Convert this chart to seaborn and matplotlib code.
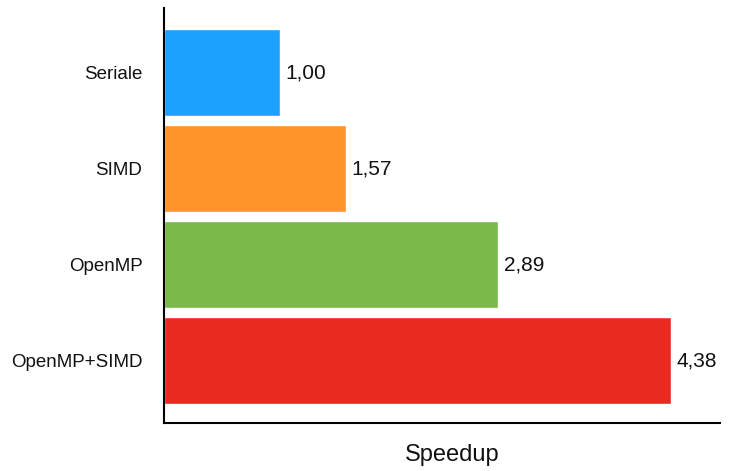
import matplotlib
matplotlib.use("Agg")
import matplotlib.pyplot as plt
import seaborn as sns
import pandas as pd

# Speedup of each implementation relative to the serial version
versions = ["Seriale", "SIMD", "OpenMP", "OpenMP+SIMD"]
speedup = [1.00, 1.57, 2.89, 4.38]
colors = ["#1DA1FF", "#FF9429", "#7BB94A", "#EA2920"]

df = pd.DataFrame({"versione": versions, "speedup": speedup})

sns.set_theme(style="white")
plt.rcParams["font.family"] = ["Liberation Sans", "DejaVu Sans"]

fig = plt.figure(figsize=(7.33, 4.71), dpi=100)
ax = fig.add_axes([164 / 733, 1 - 423 / 471, (720 - 164) / 733, (423 - 8) / 471])

sns.barplot(data=df, x="speedup", y="versione", hue="versione",
            palette=colors, orient="h", width=0.91, legend=False,
            saturation=1, ax=ax)

for container, v in zip(ax.containers, speedup):
    ax.bar_label(container, labels=[f"{v:.2f}".replace(".", ",")],
                 padding=4, fontsize=15, color="#111111")

ax.set_xlim(0, 4.805)
ax.set_ylim(3.651, -0.672)
ax.set_xticks([])
ax.set_xlabel("Speedup", fontsize=17, color="#111111")
ax.xaxis.set_label_coords(0.518, -0.05)
ax.set_ylabel("")
ax.tick_params(axis="y", length=0, pad=15.5, labelsize=13.5, labelcolor="#111111")

for side in ["top", "right"]:
    ax.spines[side].set_visible(False)
for side in ["left", "bottom"]:
    ax.spines[side].set_color("black")
    ax.spines[side].set_linewidth(1.5)

fig.savefig("out.png", dpi=100)
